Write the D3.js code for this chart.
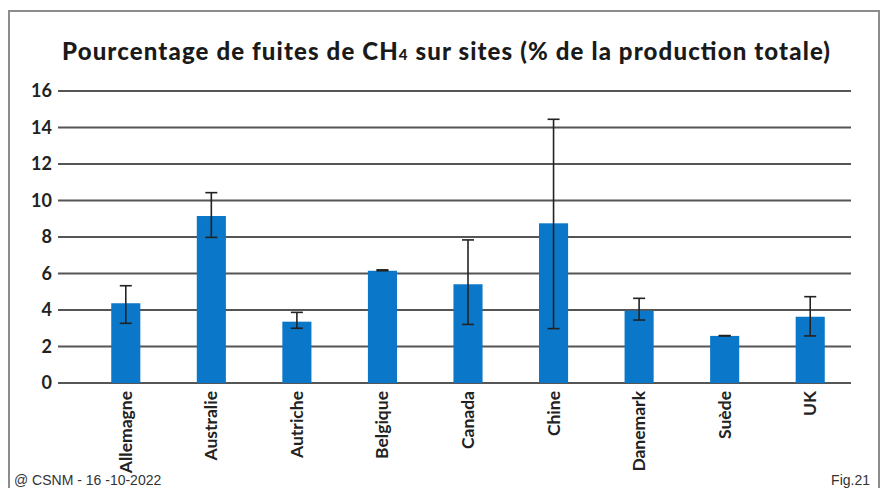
<!DOCTYPE html>
<html>
<head>
<meta charset="utf-8">
<script src="https://cdn.jsdelivr.net/npm/d3@7"></script>
<style>
  body { margin: 0; background: #fff; }
  svg { display: block; }
</style>
</head>
<body>
<svg id="chart" width="885" height="488"></svg>
<script>
// data
var countries = ["Allemagne", "Australie", "Autriche", "Belgique", "Canada", "Chine", "Danemark", "Suède", "UK"];
var values = [4.37, 9.15, 3.36, 6.15, 5.41, 8.75, 3.96, 2.58, 3.63];
var errLow = [3.27, 7.98, 3.0, 6.15, 3.21, 2.98, 3.45, 2.58, 2.58];
var errHigh = [5.33, 10.43, 3.87, 6.2, 7.84, 14.45, 4.64, 2.6, 4.73];
var yTicks = [0, 2, 4, 6, 8, 10, 12, 14, 16];

var svg = d3.select("#chart");

// frame
svg.append("path")
  .attr("d", "M9,495 L9,11 L879,11 L879,495")
  .attr("fill", "none")
  .attr("stroke", "#8c8c8c")
  .attr("stroke-width", 2);

var y = d3.scaleLinear().domain([0, 16]).range([383, 91]);
var x = d3.scaleBand().domain(countries).range([83, 853]).paddingInner(0.66).paddingOuter(0.33);

// gridlines
svg.selectAll(".grid")
  .data(yTicks)
  .enter().append("line")
  .attr("x1", 58).attr("x2", 851)
  .attr("y1", function(d) { return y(d); })
  .attr("y2", function(d) { return y(d); })
  .attr("stroke", "#555")
  .attr("stroke-width", 2);

// y labels
svg.selectAll(".ylab")
  .data(yTicks)
  .enter().append("text")
  .attr("x", 52)
  .attr("y", function(d) { return y(d); })
  .attr("dy", "0.36em")
  .attr("text-anchor", "end")
  .style("font-family", "Lato, 'Open Sans', sans-serif")
  .style("font-weight", "bold")
  .style("font-size", "18px")
  .attr("fill", "#222")
  .text(function(d) { return d; });

// bars
svg.selectAll(".bar")
  .data(countries)
  .enter().append("rect")
  .attr("x", function(d) { return x(d); })
  .attr("width", x.bandwidth())
  .attr("y", function(d, i) { return y(values[i]); })
  .attr("height", function(d, i) { return y(0) - y(values[i]); })
  .attr("fill", "#0a77c8");

// error bars
var cx = function(d) { return x(d) + x.bandwidth() / 2; };
var eb = svg.selectAll(".err").data(countries).enter().append("g")
  .attr("stroke", "#222").attr("stroke-width", 1.6);
eb.append("line")
  .attr("x1", cx).attr("x2", cx)
  .attr("y1", function(d, i) { return y(errLow[i]); })
  .attr("y2", function(d, i) { return y(errHigh[i]); });
eb.append("line")
  .attr("x1", function(d) { return cx(d) - 6; }).attr("x2", function(d) { return cx(d) + 6; })
  .attr("y1", function(d, i) { return y(errHigh[i]); })
  .attr("y2", function(d, i) { return y(errHigh[i]); });
eb.append("line")
  .attr("x1", function(d) { return cx(d) - 6; }).attr("x2", function(d) { return cx(d) + 6; })
  .attr("y1", function(d, i) { return y(errLow[i]); })
  .attr("y2", function(d, i) { return y(errLow[i]); });

// x labels, rotated
svg.selectAll(".xlab")
  .data(countries)
  .enter().append("text")
  .attr("transform", function(d) { return "translate(" + (cx(d) + 6) + ",391) rotate(-90)"; })
  .attr("text-anchor", "end")
  .style("font-family", "Lato, 'Open Sans', sans-serif")
  .style("font-weight", "bold")
  .style("font-size", "17.5px")
  .attr("fill", "#222")
  .text(function(d) { return d; });

// title
var title = svg.append("text")
  .attr("x", 62).attr("y", 60)
  .attr("textLength", 768)
  .attr("lengthAdjust", "spacing")
  .style("font-family", "Lato, 'Open Sans', sans-serif")
  .style("font-weight", "900")
  .style("font-size", "24px")
  .attr("fill", "#1a1a1a");
title.append("tspan").text("Pourcentage de fuites de CH");
title.append("tspan").style("font-size", "15px").text("4");
title.append("tspan").text(" sur sites (% de la production totale)");

// footer
svg.append("text")
  .attr("x", 14).attr("y", 485)
  .style("font-family", "'Liberation Sans Narrow', 'Arial Narrow', sans-serif")
  .style("font-size", "14px")
  .attr("fill", "#333")
  .text("@ CSNM - 16 -10-2022");
svg.append("text")
  .attr("x", 870).attr("y", 485)
  .attr("text-anchor", "end")
  .style("font-family", "'Liberation Sans Narrow', 'Arial Narrow', sans-serif")
  .style("font-size", "14px")
  .attr("fill", "#333")
  .text("Fig.21");
</script>
</body>
</html>
